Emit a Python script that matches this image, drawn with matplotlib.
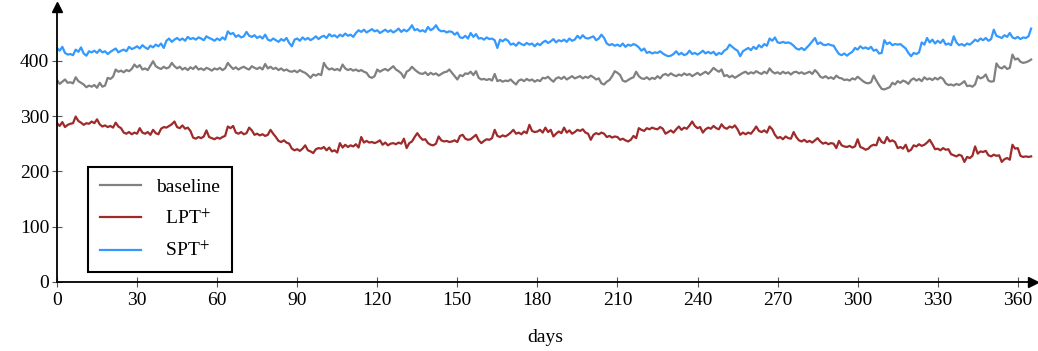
import matplotlib
matplotlib.use("Agg")
import matplotlib.pyplot as plt
import numpy as np

# daily throughput values for one year (days 0..365)
spt_plus = [
    423, 418, 425, 414, 411, 412, 410, 420, 416, 424, 413, 409, 417, 415, 418,
    414, 420, 415, 417, 412, 416, 419, 422, 415, 418, 420, 417, 425, 421, 423,
    426, 422, 428, 424, 421, 427, 424, 429, 426, 431, 423, 436, 440, 434, 438,
    441, 437, 440, 436, 443, 439, 441, 438, 442, 440, 437, 444, 441, 439, 436,
    440, 437, 442, 438, 453, 448, 450, 443, 446, 442, 444, 452, 445, 443, 446,
    441, 444, 440, 447, 438, 436, 440, 437, 434, 439, 436, 441, 432, 426, 438,
    440, 436, 442, 438, 441, 437, 440, 444, 439, 443, 445, 441, 448, 444, 446,
    442, 447, 444, 449, 445, 447, 443, 450, 455, 452, 456, 451, 454, 457, 453,
    455, 450, 453, 456, 452, 455, 451, 454, 458, 452, 456, 453, 457, 464, 455,
    457, 453, 455, 452, 461, 455, 458, 464, 456, 453, 454, 451, 453, 452, 447,
    451, 442, 441, 445, 440, 450, 443, 448, 440, 441, 438, 442, 439, 440, 437,
    423, 438, 435, 439, 436, 429, 431, 427, 433, 430, 428, 432, 429, 431, 426,
    431, 428, 433, 436, 432, 435, 439, 433, 437, 435, 438, 434, 440, 436, 438,
    445, 440, 446, 441, 440, 442, 444, 437, 440, 447, 441, 431, 428, 430, 427,
    429, 426, 431, 425, 429, 427, 430, 428, 424, 418, 422, 414, 416, 413, 415,
    414, 417, 413, 410, 408, 409, 412, 417, 411, 414, 410, 412, 418, 412, 414,
    411, 414, 418, 413, 416, 413, 416, 410, 414, 412, 418, 421, 429, 425, 421,
    418, 408, 417, 420, 423, 419, 425, 421, 428, 424, 430, 427, 440, 436, 442,
    433, 432, 434, 432, 433, 431, 427, 422, 420, 423, 419, 424, 429, 435, 441,
    430, 433, 429, 428, 430, 428, 427, 419, 412, 410, 413, 409, 413, 416, 423,
    420, 426, 422, 424, 421, 425, 418, 420, 413, 414, 437, 430, 433, 428, 430,
    429, 430, 426, 422, 414, 408, 414, 412, 415, 433, 429, 441, 433, 438, 431,
    436, 432, 438, 429, 431, 428, 444, 433, 428, 430, 427, 431, 429, 433, 438,
    435, 440, 437, 441, 436, 439, 456, 445, 443, 441, 446, 443, 450, 442, 440,
    443, 439, 442, 441, 444, 458,
]

baseline = [
    365, 358, 362, 366, 360, 361, 359, 370, 363, 360, 357, 352, 355, 353, 356,
    351, 360, 353, 355, 369, 367, 371, 384, 380, 382, 379, 383, 381, 385, 393,
    388, 392, 384, 386, 383, 391, 399, 390, 387, 385, 389, 386, 388, 396, 390,
    386, 389, 384, 387, 383, 388, 385, 390, 384, 386, 383, 387, 385, 382, 386,
    384, 387, 383, 386, 396, 390, 385, 388, 384, 387, 389, 386, 384, 390, 387,
    385, 388, 384, 394, 386, 389, 385, 387, 383, 386, 382, 384, 381, 380, 382,
    379, 383, 380, 378, 374, 369, 375, 373, 376, 374, 396, 388, 384, 386, 383,
    385, 382, 393, 386, 383, 385, 382, 384, 381, 383, 380, 378, 371, 369, 372,
    384, 380, 383, 385, 382, 386, 390, 384, 381, 377, 369, 380, 383, 389, 384,
    380, 377, 376, 379, 374, 378, 375, 377, 373, 376, 379, 380, 384, 378, 372,
    366, 374, 372, 377, 376, 380, 374, 381, 369, 366, 367, 365, 367, 364, 376,
    363, 365, 362, 364, 363, 366, 361, 357, 364, 366, 363, 367, 364, 366, 362,
    365, 363, 369, 368, 371, 366, 362, 368, 370, 367, 371, 366, 369, 372, 368,
    370, 372, 368, 371, 369, 373, 370, 366, 368, 359, 357, 362, 365, 372, 381,
    378, 374, 364, 362, 365, 368, 370, 380, 372, 368, 367, 370, 366, 369, 367,
    372, 368, 374, 376, 373, 377, 374, 372, 375, 373, 377, 374, 376, 372, 375,
    378, 374, 377, 380, 376, 381, 387, 383, 380, 384, 372, 374, 370, 373, 369,
    372, 375, 378, 380, 376, 379, 377, 381, 378, 376, 380, 377, 386, 380, 377,
    379, 376, 380, 377, 379, 375, 379, 380, 377, 379, 376, 378, 380, 376, 383,
    378, 371, 369, 372, 368, 370, 367, 373, 369, 368, 365, 366, 364, 368, 366,
    371, 367, 363, 360, 359, 361, 373, 364, 356, 349, 348, 350, 352, 360, 357,
    363, 360, 364, 362, 358, 365, 368, 364, 367, 363, 370, 366, 368, 365, 369,
    366, 370, 367, 359, 356, 357, 355, 358, 356, 359, 363, 354, 355, 353, 357,
    372, 368, 370, 375, 364, 362, 363, 395, 388, 386, 390, 385, 387, 411, 402,
    404, 398, 396, 397, 399, 402,
]

lpt_plus = [
    287, 282, 289, 280, 284, 286, 287, 299, 291, 288, 284, 287, 286, 290, 287,
    294, 285, 281, 283, 280, 282, 279, 288, 281, 278, 270, 268, 271, 267, 270,
    268, 278, 270, 268, 271, 266, 275, 269, 267, 277, 280, 279, 282, 285, 290,
    280, 278, 283, 277, 279, 273, 261, 259, 262, 260, 263, 274, 262, 260, 258,
    261, 259, 262, 264, 281, 278, 282, 270, 268, 271, 267, 269, 279, 274, 266,
    268, 265, 267, 264, 266, 275, 268, 262, 255, 253, 256, 252, 250, 241, 238,
    240, 237, 241, 247, 238, 236, 233, 240, 242, 241, 244, 238, 243, 236, 238,
    234, 251, 243, 248, 244, 247, 245, 249, 243, 262, 252, 255, 252, 253, 251,
    253, 256, 248, 252, 247, 250, 251, 249, 252, 250, 259, 242, 251, 254, 262,
    269, 262, 257, 258, 251, 248, 247, 250, 263, 256, 254, 255, 253, 254, 256,
    253, 264, 266, 259, 257, 258, 262, 266, 256, 251, 255, 258, 257, 260, 275,
    264, 262, 265, 263, 266, 270, 275, 268, 270, 267, 272, 269, 284, 273, 271,
    272, 275, 270, 279, 271, 275, 263, 268, 272, 269, 279, 270, 274, 268, 271,
    275, 273, 276, 270, 268, 257, 266, 269, 267, 270, 268, 262, 264, 261, 263,
    262, 257, 259, 256, 254, 257, 264, 260, 278, 275, 273, 278, 276, 279, 277,
    276, 280, 277, 268, 271, 274, 270, 276, 281, 275, 279, 277, 283, 290, 282,
    278, 280, 270, 276, 279, 277, 282, 278, 276, 285, 279, 277, 281, 279, 283,
    276, 266, 270, 267, 270, 268, 274, 281, 273, 271, 274, 270, 281, 276, 266,
    260, 262, 258, 263, 260, 259, 271, 262, 256, 254, 257, 253, 255, 252, 256,
    260, 254, 250, 252, 249, 251, 250, 242, 255, 247, 245, 244, 246, 243, 245,
    258, 244, 242, 239, 241, 246, 248, 247, 261, 253, 251, 262, 254, 256, 253,
    242, 244, 241, 248, 236, 239, 247, 245, 249, 246, 248, 252, 257, 249, 240,
    241, 238, 242, 239, 240, 231, 229, 227, 230, 228, 217, 226, 224, 228, 245,
    232, 236, 235, 237, 229, 227, 230, 228, 229, 217, 222, 224, 221, 248, 241,
    242, 228, 226, 227, 226, 227,
]

x_ticks = list(range(0, 361, 30))
y_ticks = [0, 100, 200, 300, 400]

plt.rcParams["font.family"] = ["Liberation Serif", "DejaVu Serif"]
plt.rcParams["mathtext.fontset"] = "stix"
plt.rcParams["font.size"] = 14

fig = plt.figure(figsize=(10.38, 3.51), dpi=100)
ax = fig.add_axes([57 / 1038, 1 - 282 / 351, (1033 - 57) / 1038, (282 - 7) / 351])

days = np.arange(len(baseline))
ax.plot(days, baseline, color="#808080", lw=1.6, label="baseline")
ax.plot(np.arange(len(lpt_plus)), lpt_plus, color="#9e2a2a", lw=1.6, label="  LPT$^{+}$")
ax.plot(np.arange(len(spt_plus)), spt_plus, color="#3399ff", lw=1.6, label="  SPT$^{+}$")

ax.set_xlim(0, 365.7)
ax.set_ylim(0, 497)
ax.set_xticks(x_ticks)
ax.set_yticks(y_ticks)
ax.tick_params(direction="inout", length=7, width=0.8, color="#555555", labelsize=14)
ax.tick_params(axis="x", pad=4)
ax.tick_params(axis="y", pad=2)

for side in ("top", "right"):
    ax.spines[side].set_visible(False)
for side in ("left", "bottom"):
    ax.spines[side].set_linewidth(1.3)

# arrow heads on the axis lines
ax.plot(1, 0, marker=">", color="black", markersize=7, transform=ax.transAxes, clip_on=False)
ax.plot(0, 1, marker="^", color="black", markersize=7, transform=ax.transAxes, clip_on=False)

ax.set_xlabel("days", fontsize=14, labelpad=14)

leg = ax.legend(loc="lower left", bbox_to_anchor=(0.032, 0.036), borderaxespad=0,
                fancybox=False, edgecolor="black", framealpha=1, fontsize=14,
                handlelength=2.1, handletextpad=0.8, labelspacing=0.65,
                borderpad=0.6)
leg.get_frame().set_linewidth(1.5)

fig.savefig("out.png", dpi=100)
